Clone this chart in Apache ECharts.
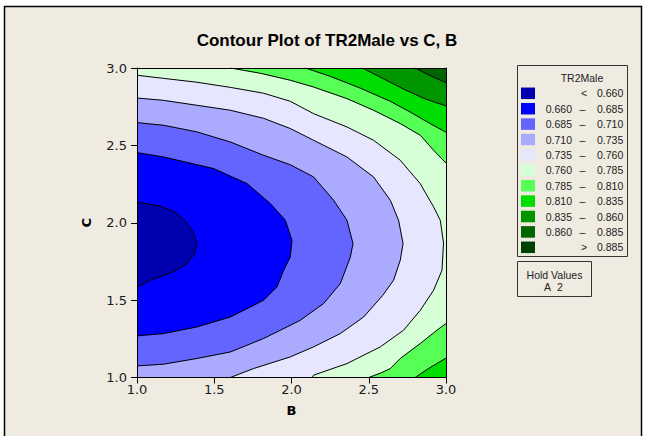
<!DOCTYPE html>
<html><head><meta charset="utf-8">
<script src="https://cdn.jsdelivr.net/npm/echarts@6.0.0/dist/echarts.min.js"></script>
<style>html,body{margin:0;padding:0;background:#fff;}#c{width:645px;height:436px;}</style>
</head><body><div id="c"></div>
<script>
// ---- data ----
const levels = [0.660, 0.685, 0.710, 0.735, 0.760, 0.785, 0.810, 0.835, 0.860, 0.885];
const bandColors = ['#0000b0', '#0000ff', '#6464ff', '#aaaaff', '#e6e6ff', '#d7ffd7', '#55ff55', '#00dd00', '#009600', '#006400', '#004000'];
const xTickLabels = ['1.0', '1.5', '2.0', '2.5', '3.0'];
const yTickLabels = ['1.0', '1.5', '2.0', '2.5', '3.0'];
const holdValues = ['A', '2'];

// contour lines, [B, C]
const c660 = [[1.0,2.134],[1.151,2.107],[1.248,2.068],[1.313,2.010],[1.364,1.939],[1.388,1.868],[1.371,1.797],[1.313,1.726],[1.216,1.675],[1.086,1.629],[1.0,1.583]];
const c685 = [[1.0,2.453],[1.172,2.425],[1.496,2.350],[1.712,2.253],[1.863,2.124],[1.960,2.016],[2.003,1.887],[1.992,1.779],[1.949,1.693],[1.906,1.585],[1.819,1.499],[1.604,1.391],[1.388,1.327],[1.172,1.284],[1.0,1.269]];
const c710 = [[1.0,2.647],[1.172,2.630],[1.388,2.587],[1.604,2.522],[1.819,2.436],[1.992,2.375],[2.143,2.296],[2.273,2.145],[2.359,2.016],[2.398,1.866],[2.381,1.779],[2.316,1.607],[2.208,1.478],[2.057,1.370],[1.971,1.327],[1.819,1.252],[1.604,1.165],[1.388,1.123],[1.172,1.086],[1.0,1.075]];
const c735 = [[1.0,2.806],[1.172,2.791],[1.388,2.759],[1.604,2.727],[1.819,2.675],[1.992,2.609],[2.143,2.533],[2.359,2.425],[2.531,2.296],[2.640,2.145],[2.693,2.016],[2.722,1.866],[2.704,1.758],[2.661,1.629],[2.590,1.530],[2.467,1.391],[2.316,1.284],[2.143,1.198],[1.992,1.133],[1.755,1.058],[1.604,1.0]];
const c760 = [[1.0,2.953],[1.172,2.933],[1.388,2.908],[1.604,2.875],[1.819,2.837],[1.992,2.785],[2.143,2.705],[2.359,2.619],[2.531,2.533],[2.704,2.404],[2.833,2.253],[2.920,2.102],[2.963,2.016],[2.984,1.868],[2.974,1.693],[2.920,1.564],[2.834,1.435],[2.726,1.306],[2.575,1.198],[2.359,1.090],[2.143,1.015],[2.133,1.0]];
const c785Top = [[1.605,3.0],[1.798,2.966],[1.992,2.921],[2.143,2.877],[2.359,2.802],[2.531,2.727],[2.704,2.641],[2.834,2.565],[2.920,2.468],[3.0,2.385]];
const c810Top = [[2.09,3.0],[2.251,2.946],[2.445,2.870],[2.639,2.785],[2.769,2.715],[2.899,2.640],[3.0,2.585]];
const c835Top = [[2.458,3.0],[2.60,2.928],[2.737,2.858],[2.866,2.800],[3.0,2.755]];
const c860Top = [[2.80,3.0],[2.90,2.950],[3.0,2.905]];
const c785Bottom = [[2.50,1.0],[2.58,1.03],[2.64,1.058],[2.704,1.123],[2.834,1.220],[2.942,1.306],[3.0,1.349]];
const c810Bottom = [[2.80,1.0],[2.898,1.065],[3.0,1.125]];

const B_MIN = 1, B_MAX = 3, C_MIN = 1, C_MAX = 3;

// filled regions (painter's order), band index into bandColors
const regions = [
  { pts: [[B_MIN, C_MIN], [B_MIN, C_MAX], [B_MAX, C_MAX], [B_MAX, C_MIN]], band: 5 },
  { pts: c760.concat([[B_MIN, C_MIN]]), band: 4 },
  { pts: c735.concat([[B_MIN, C_MIN]]), band: 3 },
  { pts: c710, band: 2 },
  { pts: c685, band: 1 },
  { pts: c660, band: 0 },
  { pts: c785Top.concat([[B_MAX, C_MAX]]), band: 6 },
  { pts: c810Top.concat([[B_MAX, C_MAX]]), band: 7 },
  { pts: c835Top.concat([[B_MAX, C_MAX]]), band: 8 },
  { pts: c860Top.concat([[B_MAX, C_MAX]]), band: 9 },
  { pts: c785Bottom.concat([[B_MAX, C_MIN]]), band: 6 },
  { pts: c810Bottom.concat([[B_MAX, C_MIN]]), band: 7 }
];
const curves = [c660, c685, c710, c735, c760, c785Top, c810Top, c835Top, c860Top, c785Bottom, c810Bottom];

const chart = echarts.init(document.getElementById('c'), null, { renderer: 'svg' });

const BEIGE = '#efebe1';
const legendFont = '10.5px "Liberation Sans", Arial, sans-serif';
const graphics = [
  { type: 'rect', z: -10, shape: { x: 0, y: 0, width: 645, height: 436 }, style: { fill: '#ffffff' }, silent: true },
  { type: 'rect', z: -9, shape: { x: 4.5, y: 6.5, width: 637, height: 440 }, style: { fill: BEIGE, stroke: '#000', lineWidth: 1.5 }, silent: true },
  { type: 'text', z: 1, style: { text: 'Contour Plot of TR2Male vs C, B', x: 327, y: 40, align: 'center', verticalAlign: 'middle', font: 'bold 17px "Liberation Sans", Arial, sans-serif', fill: '#000' } },
  // legend box
  { type: 'rect', z: 1, shape: { x: 517.5, y: 65.5, width: 110, height: 191 }, style: { fill: 'none', stroke: '#333', lineWidth: 1 } },
  { type: 'text', z: 1, style: { text: 'TR2Male', x: 582, y: 77.5, align: 'center', verticalAlign: 'middle', font: legendFont, fill: '#222' } },
  // hold values box
  { type: 'rect', z: 1, shape: { x: 517.5, y: 261.5, width: 74, height: 35 }, style: { fill: 'none', stroke: '#333', lineWidth: 1 } },
  { type: 'text', z: 1, style: { text: 'Hold Values', x: 554.5, y: 275, align: 'center', verticalAlign: 'middle', font: legendFont, fill: '#222' } },
  { type: 'text', z: 1, style: { text: holdValues[0], x: 547.5, y: 286.5, align: 'center', verticalAlign: 'middle', font: legendFont, fill: '#222' } },
  { type: 'text', z: 1, style: { text: holdValues[1], x: 560, y: 286.5, align: 'center', verticalAlign: 'middle', font: legendFont, fill: '#222' } }
];
for (let i = 0; i < bandColors.length; i++) {
  const y = 93.3 + 15.4 * i;
  graphics.push({ type: 'rect', z: 1, shape: { x: 521, y: y - 5.75, width: 14, height: 11.5 }, style: { fill: bandColors[i] } });
  if (i === 0) {
    graphics.push({ type: 'text', z: 1, style: { text: '<', x: 584, y: y, align: 'center', verticalAlign: 'middle', font: legendFont, fill: '#222' } });
    graphics.push({ type: 'text', z: 1, style: { text: levels[0].toFixed(3), x: 597, y: y, align: 'left', verticalAlign: 'middle', font: legendFont, fill: '#222' } });
  } else if (i === bandColors.length - 1) {
    graphics.push({ type: 'text', z: 1, style: { text: '>', x: 584, y: y, align: 'center', verticalAlign: 'middle', font: legendFont, fill: '#222' } });
    graphics.push({ type: 'text', z: 1, style: { text: levels[levels.length - 1].toFixed(3), x: 597, y: y, align: 'left', verticalAlign: 'middle', font: legendFont, fill: '#222' } });
  } else {
    graphics.push({ type: 'text', z: 1, style: { text: levels[i - 1].toFixed(3), x: 572, y: y, align: 'right', verticalAlign: 'middle', font: legendFont, fill: '#222' } });
    graphics.push({ type: 'text', z: 1, style: { text: '\u2013', x: 582.5, y: y, align: 'center', verticalAlign: 'middle', font: legendFont, fill: '#222' } });
    graphics.push({ type: 'text', z: 1, style: { text: levels[i].toFixed(3), x: 597, y: y, align: 'left', verticalAlign: 'middle', font: legendFont, fill: '#222' } });
  }
}

const tickFont = { fontFamily: 'DejaVu Sans', fontSize: 13, color: '#1a1a1a' };
const nameFont = { fontFamily: 'DejaVu Sans', fontSize: 13, fontWeight: 'bold', color: '#000' };

const series = [{
  type: 'custom',
  coordinateSystem: 'cartesian2d',
  silent: true,
  animation: false,
  clip: true,
  z: 2,
  data: regions.map(r => r.pts[0]),
  renderItem: function (params, api) {
    const r = regions[params.dataIndex];
    return {
      type: 'polygon',
      shape: { points: r.pts.map(p => api.coord(p)) },
      style: { fill: bandColors[r.band], stroke: bandColors[r.band], lineWidth: 0.4 }
    };
  }
}];
curves.forEach(c => series.push({
  type: 'line', data: c, symbol: 'none', showSymbol: false, silent: true, animation: false, clip: true, z: 3,
  lineStyle: { color: '#000', width: 1 }
}));

chart.setOption({
  animation: false,
  backgroundColor: '#ffffff',
  graphic: { elements: graphics },
  grid: { left: 137, right: 199, top: 68, bottom: 58.5, containLabel: false },
  xAxis: [{
    type: 'value', min: B_MIN, max: B_MAX, interval: 0.5, position: 'bottom', z: 5,
    axisLine: { show: true, onZero: false, lineStyle: { color: '#000', width: 1 } },
    axisTick: { show: true, length: 6, lineStyle: { color: '#000' } },
    axisLabel: { margin: 5, formatter: v => xTickLabels[Math.round((v - B_MIN) / 0.5)], ...tickFont },
    splitLine: { show: false },
    name: 'B', nameLocation: 'middle', nameGap: 26, nameTextStyle: nameFont
  }, {
    type: 'value', min: B_MIN, max: B_MAX, position: 'top', z: 5,
    axisLine: { show: true, onZero: false, lineStyle: { color: '#000', width: 1 } },
    axisTick: { show: false }, axisLabel: { show: false }, splitLine: { show: false }
  }],
  yAxis: [{
    type: 'value', min: C_MIN, max: C_MAX, interval: 0.5, position: 'left', z: 5,
    axisLine: { show: true, onZero: false, lineStyle: { color: '#000', width: 1 } },
    axisTick: { show: true, length: 6, lineStyle: { color: '#000' } },
    axisLabel: { margin: 10, formatter: v => yTickLabels[Math.round((v - C_MIN) / 0.5)], ...tickFont },
    splitLine: { show: false },
    name: 'C', nameLocation: 'middle', nameGap: 44, nameRotate: 90, nameTextStyle: nameFont
  }, {
    type: 'value', min: C_MIN, max: C_MAX, position: 'right', z: 5,
    axisLine: { show: true, onZero: false, lineStyle: { color: '#000', width: 1 } },
    axisTick: { show: false }, axisLabel: { show: false }, splitLine: { show: false }
  }],
  series: series
});
</script></body></html>
